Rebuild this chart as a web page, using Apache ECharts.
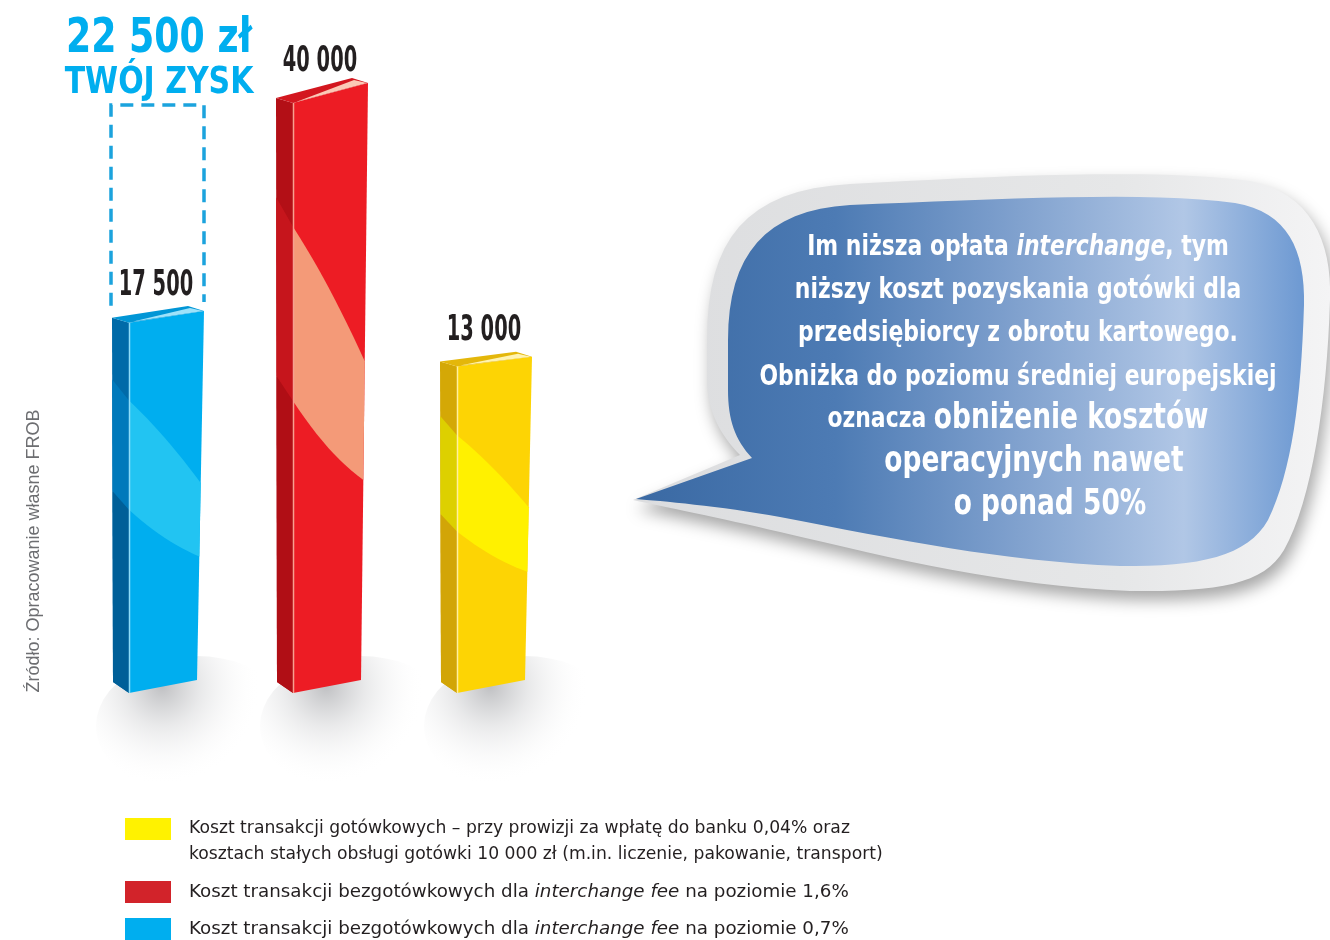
<!DOCTYPE html>
<html>
<head>
<meta charset="utf-8">
<script src="https://cdn.jsdelivr.net/npm/echarts@6/dist/echarts.min.js"></script>
<style>
html, body { margin: 0; padding: 0; background: #fff; }
#chart { width: 1330px; height: 940px; }
</style>
</head>
<body>
<div id="chart"></div>
<script>
// dane
var categories = ['0,7%', '1,6%', 'gotówka'];
var values = [17500, 40000, 13000];
var seriesNames = ['bezgotówkowe 0,7%', 'bezgotówkowe 1,6%', 'gotówkowe'];
var legendOrder = [2, 1, 0];
var legendBoxColors = ['#00aeef', '#d2232a', '#fff200'];
var axisMin = -20000;
var axisMax = 40000;

var bubbleLines = [
    '{b|Im niższa opłata }{i|interchange}{b|, tym}',
    '{b|niższy koszt pozyskania gotówki dla}',
    '{b|przedsiębiorcy z obrotu kartowego.}',
    '{b|Obniżka do poziomu średniej europejskiej}',
    '{b|oznacza }{bb|obniżenie kosztów}',
    '{bb|operacyjnych nawet}',
    '{bb|o ponad 50%}'
];
var sourceText = 'Źródło: Opracowanie własne FROB';

var COND = '"DejaVu Sans Condensed", "DejaVu Sans", sans-serif';
var LEGEND_FONT = '"DejaVu Sans", sans-serif';

// kolory słupków
var palettes = [
    { front: '#00aeef', side: '#006aa8', sideLow: '#005f98', top: '#0196d6', band: '#22c4f2', bandSide: '#0079bb', edge: '#8edcf8', streak: '#9fe2fa' },
    { front: '#ed1c24', side: '#b30f16', sideLow: '#b00e15', top: '#d3171f', band: '#f49a78', bandSide: '#c6151c', edge: '#f6a08f', streak: '#fbc9b6' },
    { front: '#fdd404', side: '#d4a806', sideLow: '#d2a507', top: '#e4b70a', band: '#fff100', bandSide: '#ddd000', edge: '#ffeea0', streak: '#fff3b0' }
];

function fmt(v) {
    return String(v).replace(/\B(?=(\d{3})+(?!\d))/g, ' ');
}

function quad(p0, p2, bulge, n) {
    var c = [(p0[0] + p2[0]) / 2, (p0[1] + p2[1]) / 2 + 2 * bulge];
    var pts = [];
    for (var k = 0; k <= n; k++) {
        var t = k / n, u = 1 - t;
        pts.push([u * u * p0[0] + 2 * u * t * c[0] + t * t * p2[0],
                  u * u * p0[1] + 2 * u * t * c[1] + t * t * p2[1]]);
    }
    return pts;
}

function ellipsePts(cx, cy, rx, ry) {
    var pts = [];
    for (var k = 0; k < 48; k++) {
        var a = k / 48 * Math.PI * 2;
        pts.push([cx + rx * Math.cos(a), cy + ry * Math.sin(a)]);
    }
    return pts;
}

// prosta ścieżka M/L/C -> punkty wielokąta
function pathPts(d) {
    var tok = d.replace(/Z/g, '').trim().split(/\s+/);
    var pts = [], cur = null, k = 0;
    while (k < tok.length) {
        var cmd = tok[k++];
        if (cmd === 'M' || cmd === 'L') {
            cur = [+tok[k], +tok[k + 1]]; k += 2;
            pts.push(cur);
        } else if (cmd === 'C') {
            var c1 = [+tok[k], +tok[k + 1]], c2 = [+tok[k + 2], +tok[k + 3]], p = [+tok[k + 4], +tok[k + 5]];
            k += 6;
            for (var j = 1; j <= 16; j++) {
                var t = j / 16, u = 1 - t;
                pts.push([u * u * u * cur[0] + 3 * u * u * t * c1[0] + 3 * u * t * t * c2[0] + t * t * t * p[0],
                          u * u * u * cur[1] + 3 * u * u * t * c1[1] + 3 * u * t * t * c2[1] + t * t * t * p[1]]);
            }
            cur = p;
        }
    }
    return pts;
}

function renderBar(params, api) {
    var i = api.value(0);
    var v = api.value(1);
    var pal = palettes[i];
    var top = api.coord([i, v]);
    var base = api.coord([i, axisMin]);
    var cx = top[0], yT = top[1], yB = base[1];
    var H = yB - yT;
    var s = 10 + 10 * (H - 330) / 270;   // skos górnej krawędzi

    var sideL = cx - 54, fl = cx - 37, frT = cx + 38, frB = cx + 31;
    var yFL = yT + s / 2, yFR = yT - s / 2;
    var yBL = yB + 3, yBR = yB - 10, ySB = yB - 8;
    var ySideT = yFL - 5;

    function L(f) { return [fl, yFL + f * (yBL - yFL)]; }
    function R(f) { return [frT + (frB - frT) * f, yFR + f * (yBR - yFR)]; }
    function S(f) { return [sideL + f, ySideT + f * (ySB - ySideT)]; }

    var upper = quad(L(0.21), R(0.466), -0.01 * H, 12);
    var lower = quad(L(0.505), R(0.665), 0.012 * H, 12);
    var bandFront = upper.concat(lower.slice().reverse());

    var children = [];
    // cień
    children.push({
        type: 'polygon',
        shape: { points: ellipsePts(cx + 30, yB + 36, 100, 70) },
        style: {
            fill: {
                type: 'radial', x: 0.33, y: 0.22, r: 0.7,
                colorStops: [
                    { offset: 0, color: 'rgba(90,92,98,0.38)' },
                    { offset: 0.4, color: 'rgba(120,122,128,0.16)' },
                    { offset: 1, color: 'rgba(255,255,255,0)' }
                ]
            }
        }
    });

    // przerywana ramka zysku nad niebieskim słupkiem
    if (i === 0) {
        var target = api.coord([i, values[1]]);
        var yBox = target[1] + 12;
        children.push({
            type: 'polyline',
            shape: { points: [[sideL - 1, ySideT - 12], [sideL - 1, yBox], [frT, yBox], [frT, yFR - 9]] },
            style: { fill: null, stroke: '#1ba3dd', lineWidth: 3.5, lineDash: [13, 8] }
        });
    }

    // bok
    children.push({
        type: 'polygon',
        shape: { points: [[sideL, ySideT], [fl, yFL], [fl, yBL], [sideL + 1, ySB]] },
        style: { fill: pal.side }
    });
    children.push({
        type: 'polygon',
        shape: { points: [S(0.476), L(0.505), L(1), S(1)] },
        style: { fill: pal.sideLow }
    });
    children.push({
        type: 'polygon',
        shape: { points: [S(0.17), L(0.21), L(0.505), S(0.476)] },
        style: { fill: pal.bandSide }
    });
    // front
    children.push({
        type: 'polygon',
        shape: { points: [[fl, yFL], [frT, yFR], [frB, yBR], [fl, yBL]] },
        style: { fill: pal.front }
    });
    children.push({
        type: 'polygon',
        shape: { points: bandFront },
        style: { fill: pal.band }
    });
    // góra
    children.push({
        type: 'polygon',
        shape: { points: [[sideL, ySideT], [fl, yFL], [frT, yFR], [frT - 16, yFR - 5]] },
        style: { fill: pal.top }
    });
    children.push({
        type: 'polygon',
        shape: { points: [[fl + 3, yFL - 1], [frT - 1, yFR], [frT - 14, yFR - 3]] },
        style: { fill: pal.streak }
    });
    // krawędź
    children.push({
        type: 'line',
        shape: { x1: fl + 0.5, y1: yFL, x2: fl + 0.5, y2: yBL },
        style: { stroke: pal.edge, lineWidth: 1.5 }
    });
    // etykieta
    children.push({
        type: 'text',
        x: cx - 10, y: yT - 31, scaleX: 0.6,
        style: {
            text: fmt(v), x: 0, y: 0,
            align: 'center', verticalAlign: 'middle',
            font: 'bold 36px ' + COND, fill: '#231f20'
        }
    });
    return { type: 'group', children: children };
}

var legendRich = {
    t: { fontFamily: LEGEND_FONT, fontSize: 18.3, color: '#231f20', lineHeight: 26 },
    ts: { fontFamily: LEGEND_FONT, fontSize: 17.2, color: '#231f20', lineHeight: 26 },
    it: { fontFamily: LEGEND_FONT, fontSize: 18.3, color: '#231f20', lineHeight: 26, fontStyle: 'italic' },
    g: { width: 18, lineHeight: 26 },
    p: { width: 64, lineHeight: 26 }
};
legendBoxColors.forEach(function (c, k) {
    legendRich['box' + k] = { width: 46, height: 22, backgroundColor: c, lineHeight: 26 };
});

function legendText(name) {
    var k = seriesNames.indexOf(name);
    if (k === 2) {
        return '{box2|}{g|}{ts|Koszt transakcji gotówkowych – przy prowizji za wpłatę do banku 0,04% oraz}\n' +
               '{p|}{ts|kosztach stałych obsługi gotówki 10 000 zł (m.in. liczenie, pakowanie, transport)}';
    }
    var pct = k === 1 ? '1,6%' : '0,7%';
    return '{box' + k + '|}{g|}{t|Koszt transakcji bezgotówkowych dla }{it|interchange fee}{t| na poziomie ' + pct + '}';
}

var bubbleBorder = 'M 633 500 L 740 455 C 720 435 707 410 707 380 L 707 340 C 707 240 745 190 850 184 ' +
    'C 1000 176 1150 168 1250 181 C 1310 193 1332 240 1330 300 C 1327 400 1312 500 1284 550 ' +
    'C 1264 584 1220 592 1130 591 C 1000 585 900 560 780 532 C 720 518 660 506 633 500 Z';
var bubbleInner = 'M 636 499 L 752 458 C 735 440 728 420 728 390 L 728 340 C 728 255 765 210 850 205 ' +
    'C 1000 199 1150 191 1235 203 C 1288 212 1305 250 1304 305 C 1301 400 1292 470 1268 520 ' +
    'C 1248 556 1200 567 1120 566 C 1000 561 900 540 780 517 C 720 506 660 501 636 499 Z';

var bubbleCenters = [1018, 1018, 1018, 1018, 1018, 1034, 1050];
var bubbleY = [247, 290, 333, 377, 419, 462, 505];

var graphics = [
    {
        type: 'polygon', z: 1,
        shape: { points: pathPts(bubbleBorder) },
        style: {
            fill: { type: 'linear', x: 0, y: 0, x2: 1, y2: 0, colorStops: [
                { offset: 0, color: '#dcdddf' }, { offset: 0.7, color: '#e6e7e8' }, { offset: 1, color: '#f4f4f5' }] },
            shadowBlur: 16, shadowColor: 'rgba(0,0,0,0.35)', shadowOffsetX: 4, shadowOffsetY: 9
        }
    },
    {
        type: 'polygon', z: 2,
        shape: { points: pathPts(bubbleInner) },
        style: {
            fill: { type: 'linear', x: 0, y: 0, x2: 1, y2: 0, colorStops: [
                { offset: 0, color: '#3a69a3' }, { offset: 0.3, color: '#4d7bb4' },
                { offset: 0.55, color: '#7c9ecc' }, { offset: 0.82, color: '#b1c7e6' },
                { offset: 1, color: '#6d99d2' }] }
        }
    },
    {
        type: 'text', z: 3, x: 159, y: 40, scaleX: 0.84,
        style: { text: fmt(values[1] - values[0]) + ' zł', x: 0, y: 0, align: 'center', verticalAlign: 'middle',
                 font: 'bold 48px ' + COND, fill: '#00aeef' }
    },
    {
        type: 'text', z: 3, x: 159, y: 83, scaleX: 0.9,
        style: { text: 'TWÓJ ZYSK', x: 0, y: 0, align: 'center', verticalAlign: 'middle',
                 font: 'bold 37px ' + COND, fill: '#00aeef' }
    },
    {
        type: 'text', z: 3, x: 34, y: 551, rotation: Math.PI / 2,
        style: { text: sourceText, x: 0, y: 0, align: 'center', verticalAlign: 'middle',
                 font: '18px "Liberation Sans", sans-serif', fill: '#6d6e71' }
    }
];
bubbleLines.forEach(function (line, k) {
    graphics.push({
        type: 'text', z: 3, x: bubbleCenters[k], y: bubbleY[k], scaleX: 0.84,
        style: {
            text: line, x: 0, y: 0, align: 'center', verticalAlign: 'middle',
            rich: {
                b: { fontFamily: COND, fontWeight: 'bold', fontSize: 29, fill: '#fff', color: '#fff' },
                i: { fontFamily: COND, fontWeight: 'bold', fontStyle: 'italic', fontSize: 29, fill: '#fff', color: '#fff' },
                bb: { fontFamily: COND, fontWeight: 'bold', fontSize: 35, fill: '#fff', color: '#fff' }
            }
        }
    });
});

var chart = echarts.init(document.getElementById('chart'), null, { renderer: 'canvas' });
chart.setOption({
    animation: false,
    backgroundColor: '#fff',
    grid: { left: 84, right: 754, top: 93, bottom: 250 },
    xAxis: { type: 'category', data: categories, show: false },
    yAxis: { type: 'value', min: axisMin, max: axisMax, show: false, splitLine: { show: false } },
    legend: {
        orient: 'vertical', left: 120, top: 816, itemGap: 11, padding: 0,
        itemWidth: 0, itemHeight: 0, textGap: 0, selectedMode: false,
        data: legendOrder.map(function (k) { return seriesNames[k]; }),
        formatter: legendText,
        textStyle: { fontFamily: LEGEND_FONT, fontSize: 18.3, color: '#231f20', lineHeight: 26, rich: legendRich }
    },
    graphic: graphics,
    series: values.map(function (v, k) {
        return {
            type: 'custom', name: seriesNames[k], z: 5,
            itemStyle: { color: legendBoxColors[k] },
            renderItem: renderBar,
            data: [[k, v]]
        };
    })
});
</script>
</body>
</html>
